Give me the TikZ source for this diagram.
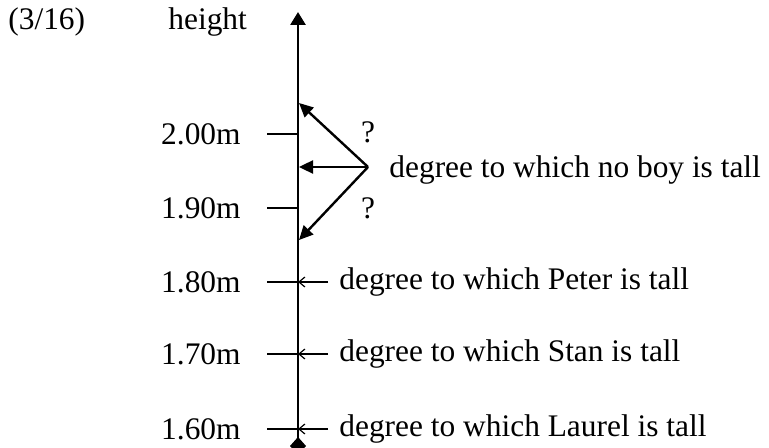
\documentclass[tikz,border=0pt]{standalone}
\usepackage{fontspec}
\setmainfont{Liberation Serif}
\usetikzlibrary{arrows.meta}

\begin{document}
\begin{tikzpicture}[
  x=0.5pt, y=-0.5pt,
  txt/.style={font=\fontsize{15.7}{19}\selectfont, inner sep=0pt},
  axis/.style={line width=1.4pt, {Diamond[length=9pt,width=8pt]}-{Triangle[length=6.5pt,width=7.5pt]}},
  tick/.style={line width=1.1pt},
  query/.style={line width=1.2pt, -{Triangle[length=7pt,width=6.5pt]}},
  who/.style={line width=0.6pt, -{Straight Barb[length=3pt,width=5pt]}}
]
\useasboundingbox (0,0) rectangle (769,448);

% header
\node[txt, anchor=west] (num)    at (8,22)   {(3/16)};
\node[txt, anchor=west] (height) at (168,22) {height};

% scale
\coordinate (bot) at (298,455);
\coordinate (top) at (298,12);
\draw[axis] (bot) -- (top);

\foreach \n/\v/\y in {a/2.00/134, b/1.90/208, c/1.80/282, d/1.70/354, e/1.60/429}{
  \coordinate (t\n) at (298,\y);
  \coordinate (s\n) at (267,\y);
  \node[txt, anchor=east] (l\n) at (241,\y) {\v m};
  \draw[tick] (s\n) -- (t\n);
}

% no boy
\coordinate (q)  at (368,167);
\coordinate (qa) at (299,103);
\coordinate (qb) at (299,167);
\coordinate (qc) at (299,240);
\draw[query] (q) -- (qa);
\draw[query] (q) -- (qb);
\draw[query] (q) -- (qc);
\node[txt] (qm1) at (368,132) {?};
\node[txt] (qm2) at (368,208) {?};
\node[txt, anchor=west] (noboy) at (389,170) {degree to which no boy is tall};

% boys
\foreach \n/\who in {c/Peter, d/Stan, e/Laurel}{
  \coordinate (p\n) at (328,0 |- t\n);
  \draw[who] (p\n) -- (t\n);
  \node[txt, anchor=west] (d\n) at (339,0 |- t\n) {degree to which \who\ is tall};
}
\end{tikzpicture}
\end{document}
